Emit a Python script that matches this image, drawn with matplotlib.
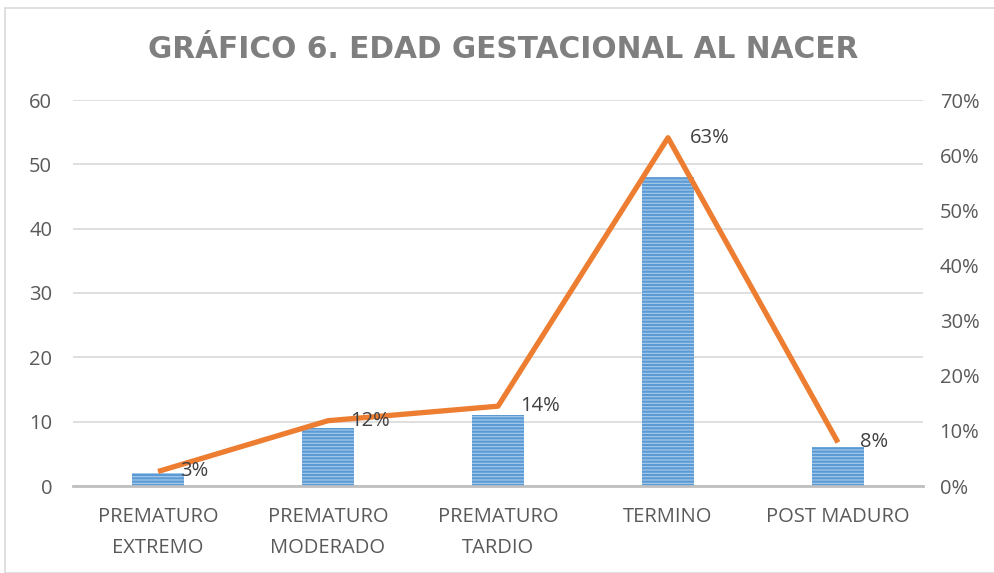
import matplotlib.pyplot as plt
from matplotlib.patches import Rectangle
from matplotlib.ticker import PercentFormatter

categories = ["PREMATURO\nEXTREMO", "PREMATURO\nMODERADO", "PREMATURO\nTARDIO", "TERMINO", "POST MADURO"]
counts = [2, 9, 11, 48, 6]
total = sum(counts)
shares = [c / total for c in counts]

plt.rcParams['font.family'] = ['Open Sans', 'DejaVu Sans']
plt.rcParams['hatch.linewidth'] = 1.6

fig = plt.figure(figsize=(9.95, 5.73), dpi=100)
fig.patches.append(Rectangle((5 / 995, 0), 1, 1 - 8 / 573, transform=fig.transFigure,
                             fill=False, edgecolor='#d9d9d9', linewidth=1.2))

ax = fig.add_axes([73 / 995, 1 - 486 / 573, 850 / 995, 386 / 573])
x = range(len(categories))
ax.bar(x, counts, width=0.31, color='#a9cbea', edgecolor='#5b9bd5', linewidth=0,
       hatch='-----', zorder=2)
ax.set_ylim(0, 60)
ax.set_xlim(-0.5, len(categories) - 0.5)
ax.set_yticks(range(0, 61, 10))
ax.grid(axis='y', color='#d9d9d9', linewidth=1.2, zorder=0)
ax.set_axisbelow(True)
for s in ['top', 'right', 'left']:
    ax.spines[s].set_visible(False)
ax.spines['bottom'].set_color('#bfbfbf')
ax.spines['bottom'].set_linewidth(2)
ax.set_xticks(list(x))
ax.set_xticklabels(categories, linespacing=1.75)
ax.tick_params(axis='both', length=0, labelsize=14.5, labelcolor='#595959')
ax.tick_params(axis='y', pad=15)
ax.tick_params(axis='x', pad=15)

ax2 = ax.twinx()
ax2.plot(list(x), shares, color='#ed7d31', linewidth=3.8, solid_capstyle='butt', zorder=3)
ax2.set_ylim(0, 0.7)
ax2.set_yticks([i / 10 for i in range(8)])
ax2.yaxis.set_major_formatter(PercentFormatter(1.0, decimals=0))
for s in ax2.spines.values():
    s.set_visible(False)
ax2.tick_params(axis='y', length=0, labelsize=14.5, labelcolor='#595959', pad=12)
for xi, sh in zip(x, shares):
    ax2.annotate(f"{sh:.0%}", (xi, sh), xytext=(16, 0), textcoords='offset points',
                 ha='left', va='center', fontsize=14.5, color='#404040')

fig.text(503 / 995, 1 - 49 / 573, "GRÁFICO 6. EDAD GESTACIONAL AL NACER", ha='center', va='center',
         fontsize=21.3, fontweight='bold', color='#7f7f7f', family=['DejaVu Sans'])

fig.savefig('out.png', dpi=100)
